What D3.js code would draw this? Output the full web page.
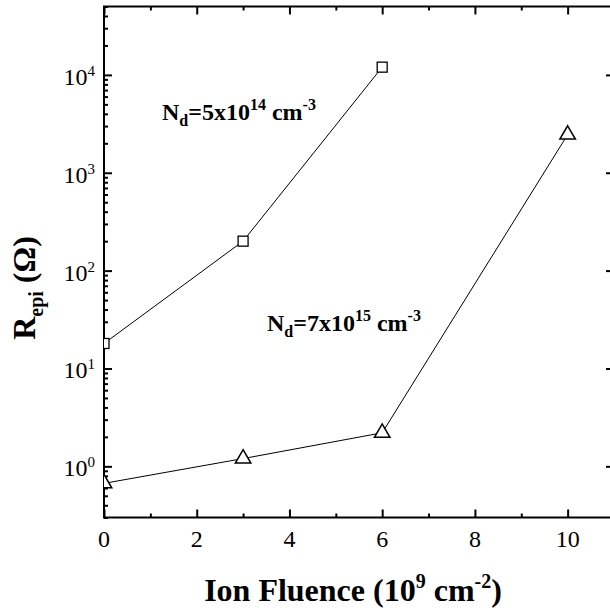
<!DOCTYPE html>
<html><head><meta charset="utf-8">
<script src="https://cdn.jsdelivr.net/npm/d3@7"></script>
<style>
body{margin:0;background:#fff}
svg{display:block}
text{font-family:"Liberation Serif","Times New Roman",serif;fill:#000}
</style>
</head><body><svg id="c" width="610" height="612"></svg>
<script>
// ---- data ----
const fluenceLow = [0, 3, 6];
const resistanceLow = [18, 200, 12000];
const fluenceHigh = [0, 3, 6, 10];
const resistanceHigh = [0.67, 1.2, 2.2, 2450];
const xMajorTicks = [0, 2, 4, 6, 8, 10];
const xMinorTicks = [1, 3, 5, 7, 9];
const yMajorTicks = [1, 10, 100, 1000, 10000];
const yTickExponents = ["0", "1", "2", "3", "4"];
const annotLow = ["N", "d", "=5x10", "14", " cm", "-3"];
const annotHigh = ["N", "d", "=7x10", "15", " cm", "-3"];

// ---- layout ----
const svg = d3.select("#c");
const L = 104, R = 614, T = 6.5, B = 517.5;
const x = d3.scaleLinear().domain([0, 11]).range([L, R]);
const y = d3.scaleLog().domain([0.3, 5e4]).range([B, T]);

const isPow = v => Math.abs(Math.log10(v) - Math.round(Math.log10(v))) < 1e-9;
const yMinor = y.ticks().filter(v => !isPow(v));

function tickAxis(axis, tr) {
  const g = svg.append("g").attr("transform", tr).call(axis);
  g.selectAll("text").remove();
  g.select("path.domain").remove();
  g.selectAll("line").attr("stroke", "#000").attr("stroke-width", 2);
  return g;
}
// left
tickAxis(d3.axisLeft(y).tickValues(yMajorTicks).tickSize(-8), `translate(${L},0)`);
tickAxis(d3.axisLeft(y).tickValues(yMinor).tickSize(-4), `translate(${L},0)`);
// right (majors only)
tickAxis(d3.axisRight(y).tickValues(yMajorTicks).tickSize(-8), `translate(${R},0)`);
// bottom
tickAxis(d3.axisBottom(x).tickValues(xMajorTicks).tickSize(-8), `translate(0,${B})`);
tickAxis(d3.axisBottom(x).tickValues(xMinorTicks).tickSize(-4), `translate(0,${B})`);
// top
tickAxis(d3.axisTop(x).tickValues(xMajorTicks).tickSize(-8), `translate(0,${T})`);
tickAxis(d3.axisTop(x).tickValues(xMinorTicks).tickSize(-4), `translate(0,${T})`);

// frame
svg.append("rect").attr("x", L).attr("y", T).attr("width", R - L).attr("height", B - T)
  .attr("fill", "none").attr("stroke", "#000").attr("stroke-width", 2);

// y tick labels
const yl = svg.append("g").selectAll("text").data(yMajorTicks).join("text")
  .attr("x", 95).attr("y", d => y(d) + 10).attr("text-anchor", "end").attr("font-size", 24);
yl.append("tspan").text("10");
yl.append("tspan").attr("font-size", 15).attr("dy", -9).text((d, i) => yTickExponents[i]);

// x tick labels
svg.append("g").selectAll("text").data(xMajorTicks).join("text")
  .attr("x", d => x(d)).attr("y", 547).attr("text-anchor", "middle").attr("font-size", 24)
  .text(d => d);

// axis titles
const xt = svg.append("text").attr("x", 353).attr("y", 601).attr("text-anchor", "middle")
  .attr("font-size", 32).attr("font-weight", "bold");
xt.append("tspan").text("Ion Fluence (10");
xt.append("tspan").attr("font-size", 20).attr("dy", -13).text("9");
xt.append("tspan").attr("dy", 13).text(" cm");
xt.append("tspan").attr("font-size", 20).attr("dy", -13).text("-2");
xt.append("tspan").attr("dy", 13).text(")");

const yt = svg.append("text").attr("transform", "translate(35,288) rotate(-90)")
  .attr("text-anchor", "middle").attr("font-size", 32).attr("font-weight", "bold");
yt.append("tspan").text("R");
yt.append("tspan").attr("font-size", 20).attr("dy", 8).text("epi");
yt.append("tspan").attr("dy", -8).text(" (\u03A9)");

// annotations
function annot(parts, ax, ay) {
  const t = svg.append("text").attr("x", ax).attr("y", ay).attr("font-size", 24).attr("font-weight", "bold");
  t.append("tspan").text(parts[0]);
  t.append("tspan").attr("font-size", 16).attr("dy", 6).text(parts[1]);
  t.append("tspan").attr("dy", -6).text(parts[2]);
  t.append("tspan").attr("font-size", 16).attr("dy", -10).text(parts[3]);
  t.append("tspan").attr("dy", 10).text(parts[4]);
  t.append("tspan").attr("font-size", 16).attr("dy", -10).text(parts[5]);
}
annot(annotLow, 162, 120);
annot(annotHigh, 267, 331);

// data
svg.append("clipPath").attr("id", "clip").append("rect")
  .attr("x", L).attr("y", T).attr("width", R - L).attr("height", B - T);
const plot = svg.append("g").attr("clip-path", "url(#clip)");
const line = d3.line().x(d => x(d[0])).y(d => y(d[1]));
const low = fluenceLow.map((f, i) => [f, resistanceLow[i]]);
const high = fluenceHigh.map((f, i) => [f, resistanceHigh[i]]);
plot.append("path").attr("d", line(low)).attr("fill", "none").attr("stroke", "#000").attr("stroke-width", 1);
plot.append("path").attr("d", line(high)).attr("fill", "none").attr("stroke", "#000").attr("stroke-width", 1);
plot.selectAll("rect.sq").data(low).join("rect").attr("class", "sq")
  .attr("x", d => x(d[0]) - 5).attr("y", d => y(d[1]) - 5).attr("width", 10).attr("height", 10)
  .attr("fill", "#fff").attr("stroke", "#000").attr("stroke-width", 1.3);
const tw = 15.5, th = 13.3;
const tri = `M0,${-2 * th / 3}L${tw / 2},${th / 3}L${-tw / 2},${th / 3}Z`;
plot.selectAll("path.tri").data(high).join("path").attr("class", "tri")
  .attr("transform", d => `translate(${x(d[0])},${y(d[1])})`).attr("d", tri)
  .attr("fill", "#fff").attr("stroke", "#000").attr("stroke-width", 1.5);
</script>
</body></html>
